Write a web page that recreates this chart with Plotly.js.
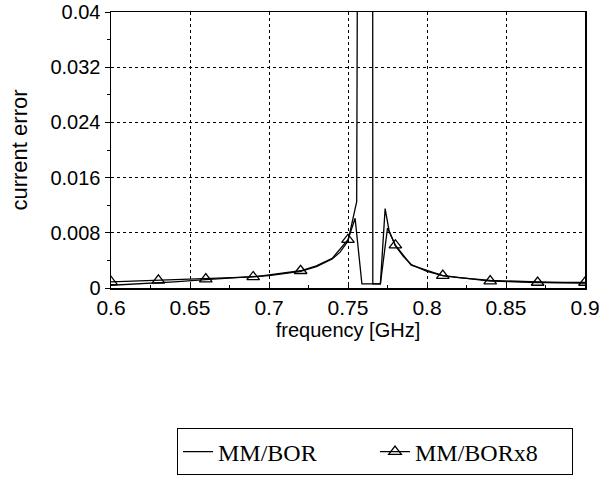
<!DOCTYPE html>
<html>
<head>
<meta charset="utf-8">
<script src="https://cdn.plot.ly/plotly-3.0.1.min.js"></script>
<style>html,body{margin:0;padding:0;background:#fff;}#chart{width:599px;height:487px;}</style>
</head>
<body>
<div id="chart"></div>
<script>
// MM/BOR (fine sampling, solid line)
const borFreq = [0.6, 0.62, 0.64, 0.66, 0.68, 0.70, 0.72, 0.73, 0.74, 0.745, 0.75, 0.7555, 0.7592, 0.7652, 0.7657, 0.7705, 0.7735, 0.776, 0.78, 0.785, 0.79, 0.80, 0.81, 0.82, 0.84, 0.86, 0.88, 0.9];
const borErr  = [0.0004, 0.0006, 0.0009, 0.0012, 0.0015, 0.0018, 0.0024, 0.0031, 0.0042, 0.0052, 0.0068, 0.0125, 0.3, 0.3, 0.0006, 0.0006, 0.0115, 0.0083, 0.0061, 0.0046, 0.0034, 0.0024, 0.0018, 0.0015, 0.0011, 0.0009, 0.0008, 0.0007];
// MM/BORx8 (triangle markers at the 0.03 GHz samples)
const x8Freq = [0.6, 0.63, 0.66, 0.69, 0.72, 0.73, 0.74, 0.75, 0.7545, 0.7588, 0.7705, 0.775, 0.78, 0.79, 0.81, 0.84, 0.87, 0.9];
const x8Err  = [0.0009, 0.0011, 0.0013, 0.0016, 0.0025, 0.0032, 0.0043, 0.007, 0.0101, 0.0006, 0.0006, 0.0087, 0.0062, 0.0033, 0.0018, 0.001, 0.0008, 0.0008];
const x8MarkerFreq = [0.6, 0.63, 0.66, 0.69, 0.72, 0.75, 0.78, 0.81, 0.84, 0.87, 0.9];

const xTicks = [0.6, 0.65, 0.7, 0.75, 0.8, 0.85, 0.9];
const yTicks = [0, 0.008, 0.016, 0.024, 0.032, 0.04];

// markers shown only at the coarse sample frequencies (open symbols are stroked with marker.color)
const markerColors = x8Freq.map(f => x8MarkerFreq.some(m => Math.abs(m - f) < 1e-9) ? '#000' : 'rgba(0,0,0,0)');

const traces = [
  {x: borFreq, y: borErr, name: 'MM/BOR', mode: 'lines', type: 'scatter',
   line: {color: '#000', width: 1.3}},
  {x: x8Freq, y: x8Err, name: 'MM/BORx8', mode: 'lines+markers', type: 'scatter',
   line: {color: '#000', width: 1.3},
   marker: {symbol: 'triangle-up-open', size: 11, color: markerColors, line: {width: 1.3}}}
];

const sans = 'Liberation Sans, Arial, sans-serif';
const axisCommon = {
  showline: true, linecolor: '#000', linewidth: 1.5, mirror: true,
  showgrid: true, gridcolor: '#000', griddash: 'dot', gridwidth: 1,
  tickcolor: '#000', zeroline: false
};

const layout = {
  width: 599, height: 487,
  margin: {l: 111, r: 14, t: 12, b: 197},
  paper_bgcolor: '#fff', plot_bgcolor: '#fff',
  showlegend: true,
  xaxis: Object.assign({}, axisCommon, {
    range: [0.6, 0.9], tickvals: xTicks, ticktext: xTicks.map(String),
    ticks: 'inside', ticklen: 5, ticklabeloverflow: 'allow',
    tickfont: {family: sans, size: 21, color: '#000'},
    minor: {ticks: 'inside', ticklen: 3, dtick: 0.025, tickcolor: '#000', showgrid: false},
    title: {text: 'frequency [GHz]', standoff: 0, font: {family: sans, size: 20, color: '#000'}}
  }),
  yaxis: Object.assign({}, axisCommon, {
    range: [0, 0.04], tickvals: yTicks, ticktext: yTicks.map(String),
    ticks: 'outside', ticklen: 5,
    tickfont: {family: sans, size: 20, color: '#000'},
    minor: {ticks: 'outside', ticklen: 3, dtick: 0.004, tickcolor: '#000', showgrid: false},
    title: {text: 'current error', standoff: 16, font: {family: sans, size: 22, color: '#000'}}
  }),
  legend: {
    orientation: 'h', x: 0.557, y: -0.594, xanchor: 'center', yanchor: 'middle',
    bordercolor: '#000', borderwidth: 1, bgcolor: '#fff',
    font: {family: 'Liberation Serif, Times New Roman, serif', size: 24, color: '#000'},
    entrywidth: 152, entrywidthmode: 'pixels', tracegroupgap: 0
  }
};

Plotly.newPlot('chart', traces, layout, {displayModeBar: false, staticPlot: true});
</script>
</body>
</html>
